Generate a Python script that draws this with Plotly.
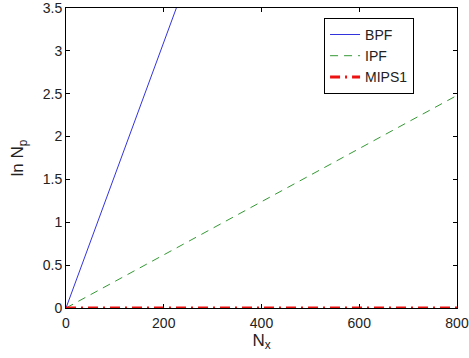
import plotly.graph_objects as go

nx = [0, 100, 200, 300, 400, 500, 600, 700, 800]
bpf = [0, 1.55, 3.10, 4.65, 6.20, 7.75, 9.30, 10.85, 12.40]
ipf = [0, 0.31, 0.62, 0.93, 1.24, 1.55, 1.86, 2.17, 2.48]
mips1 = [0, 0, 0, 0, 0, 0, 0, 0, 0]

fig = go.Figure()
fig.add_trace(go.Scatter(x=nx, y=bpf, mode="lines", name="BPF",
                         line=dict(color="#3333dd", width=1)))
fig.add_trace(go.Scatter(x=nx, y=ipf, mode="lines", name="IPF",
                         line=dict(color="#339933", width=1, dash="8px,6px")))
fig.add_trace(go.Scatter(x=nx, y=mips1, mode="lines", name="MIPS1",
                         line=dict(color="#ee1111", width=3, dash="10px,5px,2px,5px"), cliponaxis=False))

axis_common = dict(showgrid=False, zeroline=False, showline=True, linecolor="black",
                   linewidth=1, mirror="ticks", ticks="inside", ticklen=4,
                   tickcolor="black", tickfont=dict(size=14, color="#222"),
                   automargin=False, ticklabeloverflow="allow")
fig.update_layout(
    width=469, height=358,
    margin=dict(l=66, r=12, t=8, b=50),
    paper_bgcolor="white", plot_bgcolor="white",
    font=dict(family="Liberation Sans, Arial, sans-serif", size=14, color="#222"),
    xaxis=dict(range=[0, 800], tickvals=[0, 200, 400, 600, 800],
               ticklabelstandoff=2,
               title=dict(text="N<sub>x</sub>", standoff=0), **axis_common),
    yaxis=dict(range=[0, 3.5], tickvals=[0, 0.5, 1, 1.5, 2, 2.5, 3, 3.5],
               ticktext=["0", "0.5", "1", "1.5", "2", "2.5", "3", "3.5"],
               title=dict(text="ln N<sub>p</sub>", standoff=14), **axis_common),
    legend=dict(x=0.66, y=0.967, xanchor="left", yanchor="top",
                bordercolor="black", borderwidth=1, bgcolor="white",
                font=dict(size=14), tracegroupgap=0),
    showlegend=True,
)
fig.write_html("out.html")
